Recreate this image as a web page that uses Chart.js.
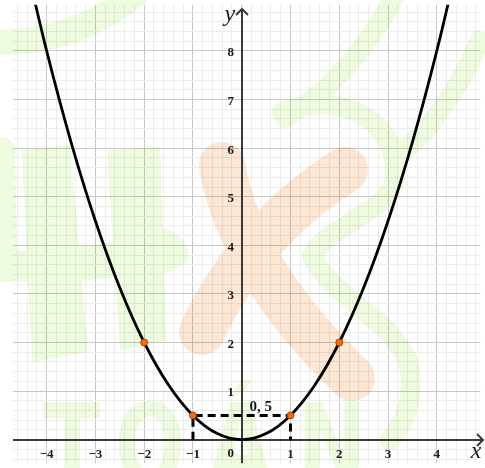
<!DOCTYPE html>
<html>
<head>
<meta charset="utf-8">
<title>y = x²/2</title>
<script src="https://cdn.jsdelivr.net/npm/chart.js"></script>
<style>
  html, body { margin: 0; padding: 0; background: #fff; }
  #wrap { width: 485px; height: 468px; }
</style>
</head>
<body>
<div id="wrap"><canvas id="chart" width="485" height="468"></canvas></div>
<script>
// parabole y = x^2 / 2
const curveX = [-4.5, -4, -3.5, -3, -2.5, -2, -1.5, -1, -0.5, 0, 0.5, 1, 1.5, 2, 2.5, 3, 3.5, 4, 4.5];
const curveY = [10.125, 8, 6.125, 4.5, 3.125, 2, 1.125, 0.5, 0.125, 0, 0.125, 0.5, 1.125, 2, 3.125, 4.5, 6.125, 8, 10.125];
// points marqués
const markX = [-2, -1, 1, 2];
const markY = [2, 0.5, 0.5, 2];
// pointillés x = -1 .. 1, y = 0.5
const dashX = [-1, -1, 1, 1];
const dashY = [0, 0.5, 0.5, 0];
// graduations
const xTickLabels = [-4, -3, -2, -1, 1, 2, 3, 4];
const yTickLabels = [1, 2, 3, 4, 5, 6, 7, 8];
const noteText = '0, 5';
const noteAt = [0.39, 0.67];

const pts = (xs, ys) => xs.map((v, i) => ({ x: v, y: ys[i] }));

// grille : un trait tous les 0,2
function minorTicks(scale) {
  const t = [];
  for (let i = Math.ceil(scale.min * 5); i <= Math.floor(scale.max * 5); i++) t.push({ value: i / 5 });
  scale.ticks = t;
}
const gridColor = c => Math.abs(c.tick.value - Math.round(c.tick.value)) < 1e-9 ? '#c8c8c8' : '#ececec';

// filigrane (décor), dessiné à part puis multiplié
function drawMark(w, h) {
  const cv = document.createElement('canvas');
  cv.width = w; cv.height = h;
  const ctx = cv.getContext('2d');
  ctx.lineCap = 'round';
  ctx.lineJoin = 'round';
  const green = '#eefbdf';
  ctx.fillStyle = green;
  ctx.strokeStyle = green;
  // H
  ctx.beginPath();
  ctx.moveTo(22, 150); ctx.lineTo(70, 145); ctx.lineTo(88, 352); ctx.lineTo(32, 362); ctx.closePath();
  ctx.moveTo(107, 150); ctx.lineTo(160, 147); ctx.lineTo(166, 340); ctx.lineTo(120, 350); ctx.closePath();
  ctx.moveTo(0, 252); ctx.lineTo(70, 248); ctx.lineTo(107, 243); ctx.lineTo(165, 228);
  ctx.quadraticCurveTo(192, 240, 188, 262); ctx.lineTo(166, 273); ctx.lineTo(107, 278); ctx.lineTo(88, 280); ctx.lineTo(0, 282); ctx.closePath();
  ctx.fill();
  // TOÁN
  ctx.font = 'bold 112px "DejaVu Sans"';
  ctx.textAlign = 'center';
  [['T', 72], ['O', 150], ['Á', 240], ['N', 332]].forEach(([ch, cx]) => {
    ctx.save(); ctx.translate(cx, 484); ctx.scale(0.74, 1); ctx.fillText(ch, 0, 0); ctx.restore();
  });
  // boucles
  ctx.lineWidth = 20;
  ctx.beginPath();
  ctx.moveTo(395, -4); ctx.quadraticCurveTo(350, 80, 285, 118);
  ctx.moveTo(282, 112); ctx.bezierCurveTo(340, 90, 400, 120, 395, 178);
  ctx.bezierCurveTo(392, 210, 330, 225, 312, 255);
  ctx.bezierCurveTo(330, 300, 400, 320, 410, 370);
  ctx.quadraticCurveTo(415, 410, 390, 440);
  ctx.moveTo(480, 40); ctx.quadraticCurveTo(450, 110, 405, 150);
  ctx.stroke();
  ctx.lineWidth = 26;
  ctx.beginPath();
  ctx.moveTo(-5, 42); ctx.quadraticCurveTo(70, 45, 135, -5);
  ctx.moveTo(2, 150); ctx.lineTo(4, 255);
  ctx.stroke();
  // X orange
  ctx.strokeStyle = '#fde6d3';
  ctx.lineWidth = 46;
  ctx.beginPath();
  ctx.moveTo(222, 165); ctx.quadraticCurveTo(240, 270, 352, 378);
  ctx.moveTo(345, 170); ctx.quadraticCurveTo(250, 230, 202, 332);
  ctx.stroke();
  return cv;
}

const watermark = {
  id: 'watermark',
  beforeDatasetsDraw(chart) {
    const ctx = chart.ctx;
    ctx.save();
    ctx.globalCompositeOperation = 'multiply';
    ctx.drawImage(drawMark(chart.width, chart.height), 0, 0);
    ctx.restore();
  }
};

// axes, flèches, graduations
const axes = {
  id: 'axes',
  beforeDatasetsDraw(chart) {
    const { ctx, chartArea, scales: { x, y } } = chart;
    const ox = Math.round(x.getPixelForValue(0)), oy = Math.round(y.getPixelForValue(0));
    ctx.save();
    ctx.strokeStyle = '#3a3a3a';
    ctx.lineWidth = 2;
    ctx.beginPath();
    ctx.moveTo(chartArea.left, oy); ctx.lineTo(483, oy);
    ctx.moveTo(477, oy - 6); ctx.lineTo(483, oy); ctx.lineTo(477, oy + 6);
    ctx.moveTo(ox, chartArea.bottom); ctx.lineTo(ox, 9);
    ctx.moveTo(ox - 6, 15); ctx.lineTo(ox, 9); ctx.lineTo(ox + 6, 15);
    ctx.stroke();
    ctx.restore();
  },
  afterDatasetsDraw(chart) {
    const { ctx, scales: { x, y } } = chart;
    const ox = x.getPixelForValue(0), oy = y.getPixelForValue(0);
    ctx.save();
    ctx.fillStyle = '#1a1a1a';
    ctx.font = 'bold 13px "Liberation Serif"';
    ctx.textAlign = 'center';
    ctx.textBaseline = 'middle';
    xTickLabels.forEach(v => ctx.fillText(v < 0 ? '\u2212' + (-v) : String(v), x.getPixelForValue(v), oy + 15));
    ctx.fillText('0', ox - 11, oy + 14);
    yTickLabels.forEach(v => ctx.fillText(String(v), ox - 11, y.getPixelForValue(v) + 2));
    ctx.font = 'bold 15px "Liberation Serif"';
    ctx.fillText(noteText, x.getPixelForValue(noteAt[0]), y.getPixelForValue(noteAt[1]));
    ctx.font = 'italic 24px "Liberation Serif"';
    ctx.fillText('x', 476, oy + 12);
    ctx.fillText('y', ox - 12, 15);
    ctx.restore();
  }
};

new Chart(document.getElementById('chart'), {
  type: 'scatter',
  data: {
    datasets: [
      {
        data: pts(markX, markY),
        showLine: false,
        pointRadius: 3.5,
        pointBackgroundColor: '#ff6a00',
        pointBorderColor: '#8a3300',
        pointBorderWidth: 0.8,
        order: 0
      },
      {
        data: pts(curveX, curveY),
        showLine: true,
        borderColor: '#000',
        borderWidth: 2.8,
        pointRadius: 0,
        cubicInterpolationMode: 'monotone',
        order: 1
      },
      {
        data: pts(dashX, dashY),
        showLine: true,
        borderColor: '#000',
        borderWidth: 3,
        borderDash: [8, 5],
        pointRadius: 0,
        order: 2
      }
    ]
  },
  options: {
    responsive: false,
    animation: false,
    devicePixelRatio: 1,
    layout: { padding: { left: 13, right: 0, top: 0, bottom: 0 } },
    plugins: { legend: { display: false }, tooltip: { enabled: false } },
    scales: {
      x: {
        type: 'linear',
        min: -4.69, max: 4.89,
        afterBuildTicks: minorTicks,
        ticks: { display: false },
        grid: { color: gridColor, lineWidth: 1, drawTicks: false },
        border: { display: false }
      },
      y: {
        type: 'linear',
        min: -0.484, max: 8.95,
        afterBuildTicks: minorTicks,
        ticks: { display: false },
        grid: { color: gridColor, lineWidth: 1, drawTicks: false },
        border: { display: false }
      }
    }
  },
  plugins: [watermark, axes]
});
</script>
</body>
</html>
